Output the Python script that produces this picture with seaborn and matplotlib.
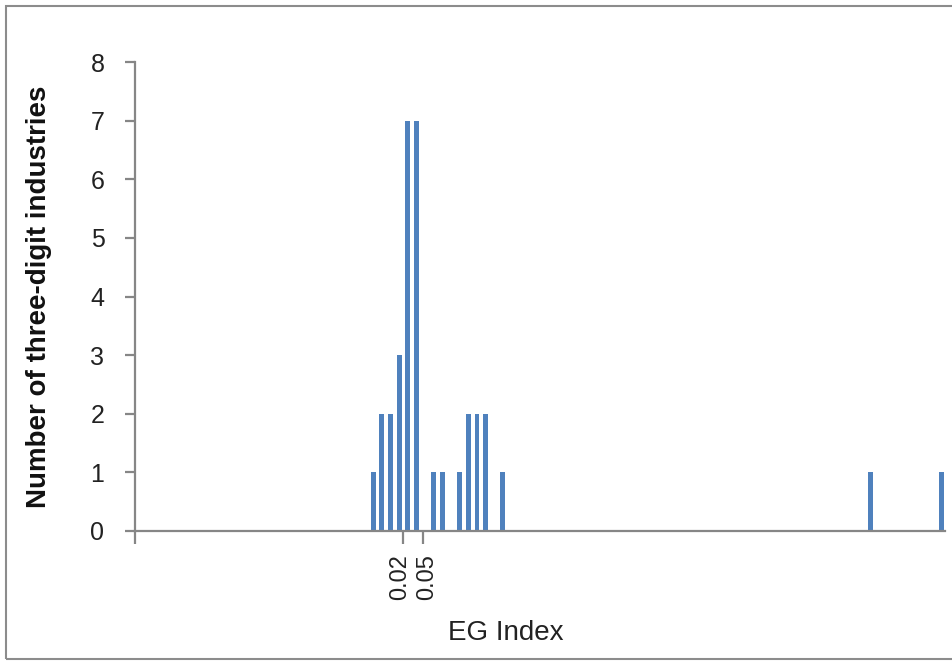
import matplotlib
matplotlib.use("Agg")
import matplotlib.pyplot as plt
import matplotlib.transforms as mtransforms
import seaborn as sns
import pandas as pd
from matplotlib.patches import Rectangle

# EG index bins (bar centres) and counts
eg_index = [-0.027, -0.0135, 0.0, 0.0135, 0.027, 0.0405, 0.0675, 0.081,
            0.108, 0.1215, 0.135, 0.1485, 0.1755, 0.75, 0.86]
counts = [1, 2, 2, 3, 7, 7, 1, 1, 1, 2, 2, 2, 1, 1, 1]
tick_values = [0.02, 0.05]
tick_labels = ["0.02", "0.05"]

dados = pd.DataFrame({"eg": eg_index, "n": counts})

sns.set_style("white")
plt.rcParams["font.family"] = ["Liberation Sans", "DejaVu Sans"]

f = plt.figure(figsize=(9.53, 6.61), dpi=100)
ax = f.add_axes([135 / 953, 130 / 661, 810 / 953, 469 / 661])

sns.barplot(data=dados, x="eg", y="n", native_scale=True, width=0.56,
            color="#4F81BD", saturation=1, linewidth=0, ax=ax)

ax.set_xlim(-0.399, 0.866)
ax.set_ylim(0, 8)

# eixos estilo Excel
grey = "#868686"
for s in ["top", "right"]:
    ax.spines[s].set_visible(False)
for s in ["left", "bottom"]:
    ax.spines[s].set_color(grey)
    ax.spines[s].set_linewidth(1.6)

ax.set_yticks(range(0, 9))
ax.tick_params(axis="y", direction="out", length=7, width=1.6, color=grey,
               pad=15, labelsize=18, labelcolor="#222222", left=True)
ax.set_xticks([-0.399] + tick_values)
ax.set_xticklabels([""] + tick_labels, rotation=90, fontsize=17)
ax.tick_params(axis="x", direction="out", length=9, width=1.6, color=grey,
               pad=8, labelcolor="#222222", bottom=True)

# afastar um pouco os dois rotulos do eixo x
labs = ax.get_xticklabels()
for lab, dx in zip(labs[1:], [-3, 5]):
    lab.set_transform(lab.get_transform() +
                      mtransforms.ScaledTranslation(dx / 100, 0, f.dpi_scale_trans))

ax.set_xlabel("EG Index", fontsize=20, color="#222222")
ax.xaxis.set_label_coords(0.458, -0.19)
ax.set_ylabel("Number of three-digit industries", fontsize=20,
              fontweight="bold", color="#111111")
ax.yaxis.set_label_coords(-0.103, 0.5)

# moldura da area do grafico
f.patches.append(Rectangle((6 / 953, 2 / 661), 1.0, 653 / 661,
                           transform=f.transFigure, fill=False,
                           edgecolor="#8c8c8c", linewidth=1.5))

f.savefig("out.png", dpi=100)
